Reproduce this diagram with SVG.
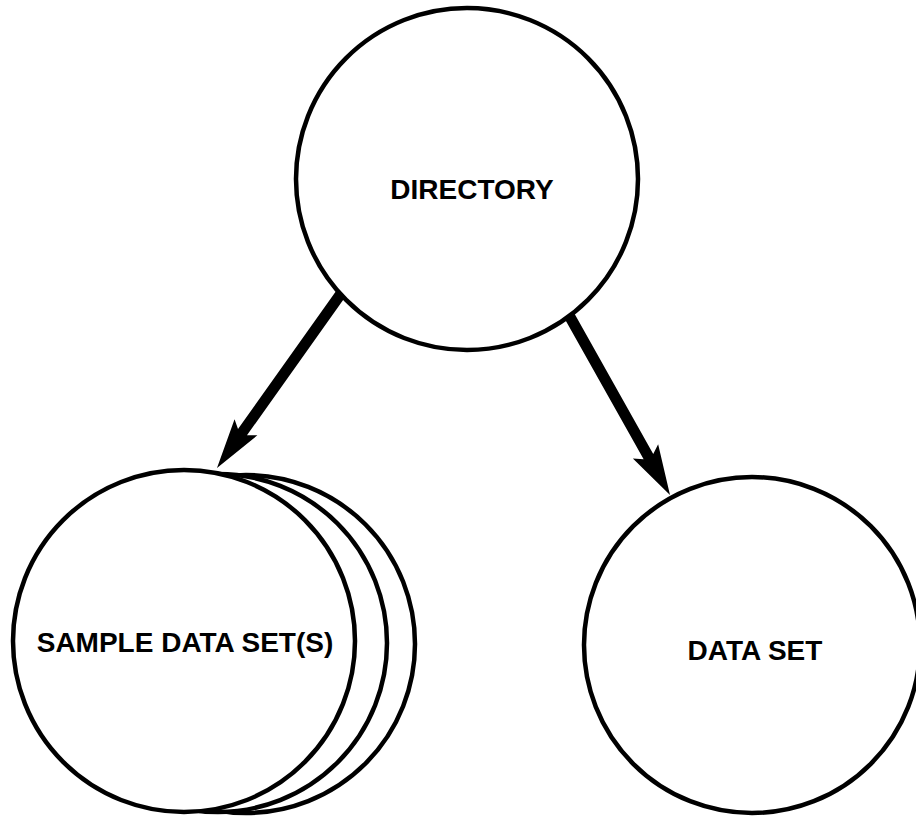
<svg xmlns="http://www.w3.org/2000/svg" width="916" height="817" viewBox="0 0 916 817">
<style>
.node{fill:#fff;stroke:#000;stroke-width:4.5}
.lbl{font-family:"Liberation Sans",Arial,sans-serif;font-weight:bold;font-size:28px;fill:#000;text-anchor:middle}
.arrow{fill:#000;stroke:none}
</style>
<rect width="916" height="817" fill="#fff"/>
<g id="connectors">
<g transform="translate(217,468) rotate(125.4)">
<polygon class="arrow" points="-225,-5.5 -44,-5.5 -50,-14 0,0 -50,14 -44,5.5 -225,5.5"/>
</g>
<g transform="translate(670,495) rotate(60.67)">
<polygon class="arrow" points="-215,-5.5 -44,-5.5 -50,-14.5 0,0 -50,14.5 -44,5.5 -215,5.5"/>
</g>
</g>
<g id="directory">
<circle class="node" cx="467" cy="179" r="171"/>
<text class="lbl" x="472" y="199">DIRECTORY</text>
</g>
<g id="sample-data-sets">
<circle class="node" cx="246" cy="644" r="169"/>
<circle class="node" cx="218" cy="643" r="169"/>
<circle class="node" cx="184" cy="641" r="171"/>
<text class="lbl" x="185" y="652">SAMPLE DATA SET(S)</text>
</g>
<g id="data-set">
<circle class="node" cx="752" cy="645" r="168"/>
<text class="lbl" x="755" y="660">DATA SET</text>
</g>
</svg>
